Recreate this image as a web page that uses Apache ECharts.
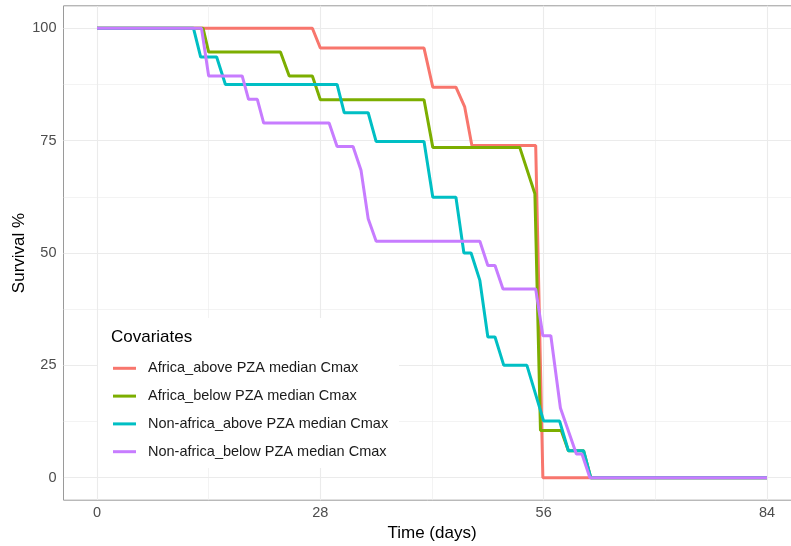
<!DOCTYPE html>
<html>
<head>
<meta charset="utf-8">
<script src="https://cdn.jsdelivr.net/npm/echarts@6/dist/echarts.min.js"></script>
<style>
html,body{margin:0;padding:0;background:#fff;overflow:hidden;}
#chart{width:791px;height:546px;}
</style>
</head>
<body>
<div id="chart"></div>
<script>
// ---- Data ----
var seriesNames = [
  'Africa_above PZA median Cmax',
  'Africa_below PZA median Cmax',
  'Non-africa_above PZA median Cmax',
  'Non-africa_below PZA median Cmax'
];
var seriesColors = ['#F8766D', '#7CAE00', '#00BFC4', '#C77CFF'];

var africaAboveDays = [0, 27, 28, 41, 42.1, 45, 46.1, 47, 55, 55.9, 84];
var africaAboveSurv = [100, 100, 95.6, 95.6, 86.9, 86.9, 82.5, 73.9, 73.9, 0, 0];

var africaBelowDays = [0, 13.3, 14, 23, 24.1, 27, 28, 41, 42.1, 53, 54.9, 55.6, 58.2, 59.1, 61, 61.9, 84];
var africaBelowSurv = [100, 100, 94.7, 94.7, 89.4, 89.4, 84.1, 84.1, 73.5, 73.5, 63.2, 10.5, 10.5, 6.0, 6.0, 0, 0];

var nonAfricaAboveDays = [0, 12.1, 13, 15, 16.1, 30.1, 31, 34, 35, 41, 42.1, 45, 46, 46.9, 48, 49, 49.9, 51, 53.9, 56, 58, 59.1, 61, 61.9, 84];
var nonAfricaAboveSurv = [100, 100, 93.6, 93.6, 87.5, 87.5, 81.2, 81.2, 74.8, 74.8, 62.4, 62.4, 50.0, 50.0, 43.9, 31.3, 31.3, 25.0, 25.0, 12.6, 12.6, 6.0, 6.0, 0, 0];

var nonAfricaBelowDays = [0, 13.1, 14, 18.2, 19, 20.1, 20.9, 29.1, 30.1, 32.1, 33.1, 34, 35, 48, 49, 49.9, 50.9, 55, 55.9, 56.9, 58.1, 60.1, 60.8, 61.8, 84];
var nonAfricaBelowSurv = [100, 100, 89.4, 89.4, 84.2, 84.2, 78.9, 78.9, 73.7, 73.7, 68.4, 57.6, 52.6, 52.6, 47.2, 47.2, 42.0, 42.0, 31.6, 31.6, 15.5, 5.3, 5.3, 0, 0];

var xTicks = [0, 28, 56, 84];
var xMinorTicks = [14, 42, 70];
var yTicks = [0, 25, 50, 75, 100];
var yMinorTicks = [12.5, 37.5, 62.5, 87.5];

var legendTitle = 'Covariates';
var xTitle = 'Time (days)';
var yTitle = 'Survival %';

// ---- Build ----
function pairs(d, s) { return d.map(function (v, i) { return [v, s[i]]; }); }
var allData = [
  pairs(africaAboveDays, africaAboveSurv),
  pairs(africaBelowDays, africaBelowSurv),
  pairs(nonAfricaAboveDays, nonAfricaAboveSurv),
  pairs(nonAfricaBelowDays, nonAfricaBelowSurv)
];

var gridColor = '#ebebeb';
var gridLines = [];
xTicks.forEach(function (v) { gridLines.push({ xAxis: v, lineStyle: { color: gridColor, width: 1.1, type: 'solid' } }); });
xMinorTicks.forEach(function (v) { gridLines.push({ xAxis: v, lineStyle: { color: gridColor, width: 0.6, type: 'solid' } }); });
yTicks.forEach(function (v) { gridLines.push({ yAxis: v, lineStyle: { color: gridColor, width: 1.1, type: 'solid' } }); });
yMinorTicks.forEach(function (v) { gridLines.push({ yAxis: v, lineStyle: { color: gridColor, width: 0.6, type: 'solid' } }); });

var series = [{
  type: 'line', name: '__grid', data: [], silent: true, z: 0,
  markLine: { z: 1, silent: true, symbol: ['none', 'none'], label: { show: false }, data: gridLines, animation: false }
}];
allData.forEach(function (d, i) {
  series.push({
    type: 'line', name: seriesNames[i], data: d, showSymbol: false, symbol: 'none',
    lineStyle: { color: seriesColors[i], width: 3 }, itemStyle: { color: seriesColors[i] },
    z: 3 + i, clip: true
  });
});

var font = '"Liberation Sans", Arial, Helvetica, sans-serif';
var chart = echarts.init(document.getElementById('chart'), null, { renderer: 'canvas' });
chart.setOption({
  animation: false,
  backgroundColor: '#fff',
  textStyle: { fontFamily: font },
  grid: { left: 63.5, right: -9.5, top: 5.8, bottom: 45.8, show: true, borderColor: '#9a9a9a', borderWidth: 1, containLabel: false, outerBoundsMode: 'none' },
  xAxis: {
    type: 'value', min: -4.2, max: 88.2,
    name: xTitle, nameLocation: 'middle', nameGap: 25, nameMoveOverlap: false,
    nameTextStyle: { fontSize: 17, color: '#000', fontFamily: font },
    axisLine: { show: true, lineStyle: { color: '#555', width: 1 } },
    axisTick: { show: true, length: 4, customValues: xTicks, lineStyle: { color: '#333' } },
    axisLabel: { customValues: xTicks, fontSize: 14.5, color: '#4d4d4d', margin: 5, fontFamily: font },
    splitLine: { show: false }, minorSplitLine: { show: false }
  },
  yAxis: {
    type: 'value', min: -5, max: 105,
    name: yTitle, nameLocation: 'middle', nameGap: 35.5, nameRotate: 90, nameMoveOverlap: false,
    nameTextStyle: { fontSize: 17, color: '#000', fontFamily: font },
    axisLine: { show: true, lineStyle: { color: '#9a9a9a', width: 1 } },
    axisTick: { show: true, length: 4, customValues: yTicks, lineStyle: { color: '#333' } },
    axisLabel: { customValues: yTicks, fontSize: 14.5, color: '#4d4d4d', margin: 7, fontFamily: font },
    splitLine: { show: false }
  },
  legend: {
    data: seriesNames, orient: 'vertical', left: 113, top: 360.3,
    icon: 'rect', itemWidth: 23, itemHeight: 3, itemGap: 11.8,
    padding: 0, z: 8,
    textStyle: { fontSize: 14.5, color: '#1a1a1a', lineHeight: 16, padding: [0, 0, 0, 7], fontFamily: font },
    selectedMode: false
  },
  graphic: [
    { type: 'rect', z: 6, silent: true, shape: { x: 98, y: 318, width: 301, height: 150 }, style: { fill: '#fff' } },
    { type: 'text', z: 7, silent: true, x: 111, y: 337.5, style: { text: legendTitle, fontSize: 17, fill: '#000', font: '17px ' + font, verticalAlign: 'middle', align: 'left' } }
  ],
  series: series
});
</script>
</body>
</html>
